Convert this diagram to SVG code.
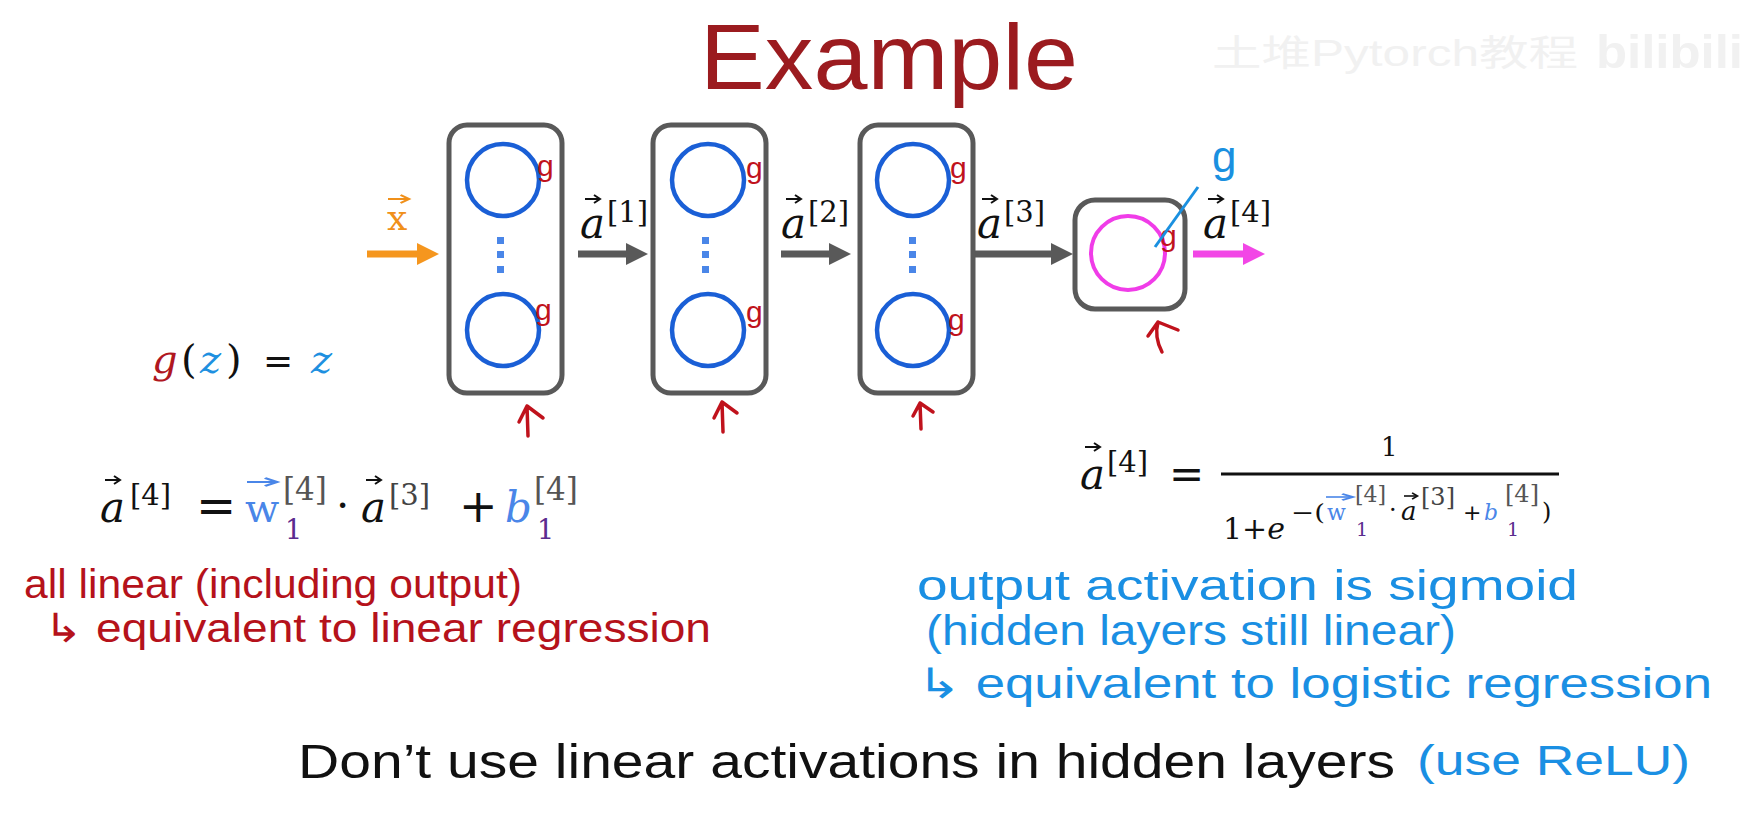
<svg xmlns="http://www.w3.org/2000/svg" xmlns:xlink="http://www.w3.org/1999/xlink" width="1743" height="836" viewBox="0 0 1743 836">
<style>
.box{fill:#fff;stroke:#595959;stroke-width:5}
.nb{fill:none;stroke:#1a5fd6;stroke-width:4.5}
.np{fill:none;stroke:#f03ce8;stroke-width:4}
.dot{fill:#4a86e8}
.gr{font-family:"Liberation Sans",sans-serif;font-size:30px;fill:#c0121c}
.mi{font-family:"DejaVu Serif",serif;font-style:italic}
.mr{font-family:"DejaVu Serif",serif}
.op{font-family:"DejaVu Sans",sans-serif}
.hr{font-family:"Liberation Sans",sans-serif;fill:#b5121b;font-size:40px}
.hb{font-family:"Liberation Sans",sans-serif;fill:#1a8fe3;font-size:42px}
.up{fill:none;stroke:#c0121c;stroke-width:3.5;stroke-linecap:round;stroke-linejoin:round}
.cn{stroke-width:7;fill:none}
</style>
<defs>
<g id="vec"><line x1="0" y1="0" x2="14" y2="0" stroke="currentColor" stroke-width="2"/><path d="M9,-4 L15,0 L9,4" fill="none" stroke="currentColor" stroke-width="2"/></g>
<marker id="hg" markerUnits="userSpaceOnUse" markerWidth="24" markerHeight="24" refX="4" refY="11" orient="auto"><path d="M0,0 L22,11 L0,22 z" fill="#595959"/></marker>
<marker id="ho" markerUnits="userSpaceOnUse" markerWidth="24" markerHeight="24" refX="4" refY="11" orient="auto"><path d="M0,0 L22,11 L0,22 z" fill="#f5961e"/></marker>
<marker id="hp" markerUnits="userSpaceOnUse" markerWidth="24" markerHeight="24" refX="4" refY="11" orient="auto"><path d="M0,0 L22,11 L0,22 z" fill="#f246e6"/></marker>
</defs>
<rect width="1743" height="836" fill="#fff"/>

<text x="700" y="89" font-family="Liberation Sans, sans-serif" font-size="92" fill="#9b1b1f" textLength="378" lengthAdjust="spacingAndGlyphs">Example</text>
<g id="watermark" fill="#f1f1f1" font-family="Liberation Sans, 'Noto Sans CJK SC', sans-serif">
<text x="1212" y="66" font-size="36" textLength="366" lengthAdjust="spacingAndGlyphs">土堆Pytorch教程</text>
<text x="1596" y="68" font-size="46" font-weight="bold" textLength="147" lengthAdjust="spacingAndGlyphs">bilibili</text>
</g>

<g id="connectors">
<line class="cn" x1="367" y1="254" x2="421" y2="254" stroke="#f5961e" marker-end="url(#ho)"/>
<line class="cn" x1="578" y1="254" x2="630" y2="254" stroke="#595959" marker-end="url(#hg)"/>
<line class="cn" x1="781" y1="254" x2="833" y2="254" stroke="#595959" marker-end="url(#hg)"/>
<line class="cn" x1="973" y1="254" x2="1055" y2="254" stroke="#595959" marker-end="url(#hg)"/>
<line class="cn" x1="1193" y1="254" x2="1247" y2="254" stroke="#f246e6" marker-end="url(#hp)"/>
</g>

<g id="input-x">
<text class="mr" x="387" y="230" font-size="36" fill="#f0901a">x</text>
<use href="#vec" transform="translate(388,199) scale(1.4,1)" color="#f0901a"/>
</g>

<g id="layer1">
<rect class="box" x="449" y="125" width="113" height="268" rx="18"/>
<circle class="nb" cx="503" cy="180" r="36"/>
<circle class="nb" cx="503" cy="330" r="36"/>
<rect class="dot" x="497" y="237" width="7" height="7"/><rect class="dot" x="497" y="251" width="7" height="7"/><rect class="dot" x="497" y="266" width="7" height="7"/>
<text class="gr" x="537" y="176">g</text>
<text class="gr" x="535" y="320">g</text>
</g>
<g id="layer2">
<rect class="box" x="653" y="125" width="113" height="268" rx="18"/>
<circle class="nb" cx="708" cy="180" r="36"/>
<circle class="nb" cx="708" cy="330" r="36"/>
<rect class="dot" x="702" y="237" width="7" height="7"/><rect class="dot" x="702" y="251" width="7" height="7"/><rect class="dot" x="702" y="266" width="7" height="7"/>
<text class="gr" x="746" y="178">g</text>
<text class="gr" x="746" y="322">g</text>
</g>
<g id="layer3">
<rect class="box" x="860" y="125" width="113" height="268" rx="18"/>
<circle class="nb" cx="913" cy="180" r="36"/>
<circle class="nb" cx="913" cy="330" r="36"/>
<rect class="dot" x="909" y="237" width="7" height="7"/><rect class="dot" x="909" y="251" width="7" height="7"/><rect class="dot" x="909" y="266" width="7" height="7"/>
<text class="gr" x="950" y="178">g</text>
<text class="gr" x="948" y="330">g</text>
</g>
<g id="layer4">
<rect class="box" x="1075" y="200" width="110" height="109" rx="20"/>
<circle class="np" cx="1128" cy="253" r="37"/>
<text class="gr" x="1160" y="246" font-size="40">g</text>
<line x1="1155" y1="247" x2="1198" y2="187" stroke="#1a90e0" stroke-width="3"/>
<text x="1212" y="172" font-family="Liberation Sans, sans-serif" font-size="44" fill="#1a90e0">g</text>
</g>

<g id="labels" fill="#111">
<g id="a1"><text class="mi" x="580" y="238" font-size="42">a</text><text class="mr" x="607" y="222" font-size="29">[1]</text><use href="#vec" transform="translate(585,199)" color="#111"/></g>
<g id="a2"><text class="mi" x="781" y="238" font-size="42">a</text><text class="mr" x="808" y="222" font-size="29">[2]</text><use href="#vec" transform="translate(786,199)" color="#111"/></g>
<g id="a3"><text class="mi" x="977" y="238" font-size="42">a</text><text class="mr" x="1004" y="222" font-size="29">[3]</text><use href="#vec" transform="translate(982,199)" color="#111"/></g>
<g id="a4"><text class="mi" x="1203" y="238" font-size="42">a</text><text class="mr" x="1230" y="222" font-size="29">[4]</text><use href="#vec" transform="translate(1208,199)" color="#111"/></g>
</g>

<g id="marks">
<path class="up" d="M528,436 L527,406 M519,422 L527,406 L543,418"/>
<path class="up" d="M723,432 L722,402 M714,418 L722,402 L737,413"/>
<path class="up" d="M921,429 L920,403 M913,416 L920,403 L933,412"/>
<path class="up" d="M1162,352 Q1154,337 1158,322 M1148,336 L1158,322 L1178,330"/>
</g>

<g id="gz" font-size="40">
<text class="mi" x="152" y="373" fill="#b0171f">g</text>
<text class="mr" x="181" y="373" fill="#111">(</text>
<text class="mi" x="200" y="373" fill="#1e90e0">z</text>
<text class="mr" x="226" y="373" fill="#111">)</text>
<text class="op" x="263" y="373" font-size="36" fill="#111">=</text>
<text class="mi" x="311" y="373" fill="#1e90e0">z</text>
</g>

<g id="eq-linear" fill="#111">
<text class="mi" x="100" y="522" font-size="42">a</text><use href="#vec" transform="translate(105,480)" color="#111"/>
<text class="mr" x="130" y="505" font-size="29">[4]</text>
<text class="op" x="196" y="522" font-size="48">=</text>
<text class="mr" x="245" y="522" font-size="40" fill="#4a86e8">w</text>
<use href="#vec" transform="translate(247,482) scale(2,1)" color="#4a86e8"/>
<text class="mr" x="283" y="500" font-size="31" fill="#555">[4]</text>
<text class="mr" x="285" y="539" font-size="27" fill="#5b2c8f">1</text>
<text class="mr" x="336" y="520" font-size="42">·</text>
<text class="mi" x="361" y="522" font-size="42">a</text><use href="#vec" transform="translate(366,480)" color="#111"/>
<text class="mr" x="389" y="505" font-size="29" fill="#444">[3]</text>
<text class="op" x="459" y="522" font-size="46">+</text>
<text class="mi" x="505" y="522" font-size="42" fill="#4a86e8">b</text>
<text class="mr" x="534" y="500" font-size="31" fill="#555">[4]</text>
<text class="mr" x="537" y="539" font-size="27" fill="#5b2c8f">1</text>
</g>

<g id="eq-sigmoid" fill="#111">
<text class="mi" x="1080" y="489" font-size="42">a</text><use href="#vec" transform="translate(1085,447)" color="#111"/>
<text class="mr" x="1107" y="472" font-size="29">[4]</text>
<text class="op" x="1169" y="488" font-size="42">=</text>
<line x1="1221" y1="474" x2="1559" y2="474" stroke="#111" stroke-width="3"/>
<text class="mr" x="1381" y="456" font-size="26">1</text>
<text x="1223" y="539" font-size="30" textLength="62" lengthAdjust="spacingAndGlyphs"><tspan class="mr">1+</tspan><tspan class="mi">e</tspan></text>
<text class="mr" x="1291" y="520" font-size="22" textLength="34" lengthAdjust="spacingAndGlyphs">−(</text>
<text class="mr" x="1327" y="520" font-size="22" fill="#4a86e8">w</text>
<use href="#vec" transform="translate(1326,497) scale(1.8,0.8)" color="#4a86e8"/>
<text class="mr" x="1355" y="502" font-size="22" fill="#555">[4]</text>
<text class="mr" x="1356" y="536" font-size="19" fill="#5b2c8f">1</text>
<text class="mr" x="1389" y="518" font-size="24">·</text>
<text class="mi" x="1401" y="520" font-size="26">a</text><use href="#vec" transform="translate(1404,496) scale(0.9,0.8)" color="#111"/>
<text class="mr" x="1421" y="505" font-size="24" fill="#444">[3]</text>
<text class="op" x="1463" y="520" font-size="22">+</text>
<text class="mi" x="1484" y="520" font-size="22" fill="#4a86e8">b</text>
<text class="mr" x="1505" y="502" font-size="24" fill="#555">[4]</text>
<text class="mr" x="1507" y="536" font-size="19" fill="#5b2c8f">1</text>
<text class="mr" x="1542" y="520" font-size="24">)</text>
</g>

<g id="notes-red">
<text class="hr" x="24" y="598" textLength="498" lengthAdjust="spacingAndGlyphs">all linear (including output)</text>
<text class="hr" x="44" y="642" textLength="667" lengthAdjust="spacingAndGlyphs">↳ equivalent to linear regression</text>
</g>
<g id="notes-blue">
<text class="hb" x="917" y="600" textLength="661" lengthAdjust="spacingAndGlyphs">output activation is sigmoid</text>
<text class="hb" x="926" y="645" textLength="530" lengthAdjust="spacingAndGlyphs">(hidden layers still linear)</text>
<text class="hb" x="917" y="698" textLength="795" lengthAdjust="spacingAndGlyphs">↳ equivalent to logistic regression</text>
<text class="hb" x="1417" y="775" textLength="273" lengthAdjust="spacingAndGlyphs">(use ReLU)</text>
</g>

<text x="298" y="778" font-family="Liberation Sans, sans-serif" font-size="49" fill="#111" textLength="1097" lengthAdjust="spacingAndGlyphs">Don’t use linear activations in hidden layers</text>
</svg>
